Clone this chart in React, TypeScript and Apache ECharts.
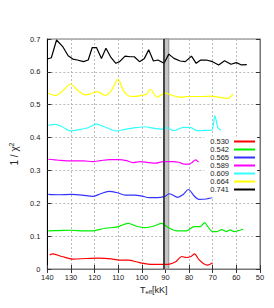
import React, { useEffect, useRef } from "react";
import * as echarts from "echarts";

const seriesNames = ["0.530", "0.542", "0.565", "0.589", "0.609", "0.664", "0.741"];
const seriesColors = ["#ff0000", "#00ee00", "#3333ff", "#ff00ff", "#33ffff", "#ffff00", "#000000"];

const t530 = [139.0, 137.7, 133.8, 129.2, 123.4, 118.2, 113.0, 109.7, 105.8, 101.3, 97.4, 92.2, 88.3, 85.7, 83.1, 81.2, 79.2, 77.7, 76.0, 74.0, 72.1, 70.1];
const v530 = [0.043, 0.046, 0.038, 0.030, 0.032, 0.033, 0.031, 0.027, 0.027, 0.020, 0.015, 0.014, 0.015, 0.022, 0.038, 0.035, 0.038, 0.046, 0.030, 0.017, 0.012, 0.019];

const t542 = [139.6, 135.1, 129.9, 124.7, 120.1, 115.6, 110.4, 105.8, 102.6, 98.7, 94.8, 91.6, 89.0, 85.2, 81.2, 77.9, 75.3, 73.4, 72.1, 70.1, 68.2, 66.2, 64.3, 62.6, 61.0, 59.5, 57.1];
const v542 = [0.116, 0.117, 0.118, 0.116, 0.117, 0.124, 0.128, 0.139, 0.131, 0.126, 0.131, 0.139, 0.127, 0.116, 0.116, 0.129, 0.129, 0.141, 0.129, 0.114, 0.114, 0.120, 0.114, 0.119, 0.114, 0.116, 0.121];

const t565 = [139.6, 135.1, 129.9, 125.3, 120.8, 117.5, 114.0, 110.4, 107.1, 103.2, 100.0, 96.8, 93.5, 90.3, 88.3, 84.8, 82.5, 80.3, 77.9, 76.0, 72.7, 70.1];
const v565 = [0.227, 0.226, 0.227, 0.225, 0.221, 0.229, 0.236, 0.232, 0.225, 0.225, 0.222, 0.217, 0.217, 0.221, 0.229, 0.218, 0.227, 0.242, 0.223, 0.212, 0.213, 0.218];

const t589 = [139.6, 135.1, 129.9, 124.7, 120.8, 117.5, 113.6, 109.7, 106.5, 103.9, 100.6, 97.4, 94.2, 90.9, 87.0, 84.4, 82.1, 79.9, 78.6, 77.3, 76.0];
const v589 = [0.334, 0.331, 0.329, 0.329, 0.327, 0.330, 0.333, 0.333, 0.330, 0.324, 0.327, 0.324, 0.322, 0.327, 0.327, 0.325, 0.319, 0.319, 0.325, 0.332, 0.325];

const t609 = [139.6, 136.4, 133.8, 129.9, 126.0, 122.7, 119.2, 115.6, 111.0, 107.1, 102.6, 98.7, 94.8, 91.6, 89.6, 86.4, 82.5, 79.2, 76.6, 72.7, 70.4, 69.1, 67.8, 66.5];
const v609 = [0.438, 0.440, 0.433, 0.420, 0.425, 0.430, 0.441, 0.432, 0.420, 0.425, 0.430, 0.433, 0.428, 0.426, 0.430, 0.421, 0.431, 0.430, 0.421, 0.422, 0.423, 0.466, 0.430, 0.423];

const t664 = [139.6, 136.4, 133.8, 130.1, 127.3, 124.0, 121.4, 118.8, 115.6, 113.0, 110.1, 107.5, 104.5, 101.0, 98.0, 96.4, 93.5, 90.3, 87.0, 83.8, 80.5, 77.3, 74.0, 70.8, 67.5, 64.3, 63.0, 61.4];
const v664 = [0.535, 0.528, 0.540, 0.563, 0.545, 0.530, 0.534, 0.540, 0.528, 0.542, 0.577, 0.540, 0.525, 0.527, 0.532, 0.547, 0.523, 0.535, 0.528, 0.523, 0.525, 0.525, 0.525, 0.526, 0.523, 0.519, 0.521, 0.532];

const t741 = [140.0, 138.3, 136.1, 133.5, 131.2, 129.2, 127.3, 124.7, 122.7, 121.0, 119.2, 117.1, 115.2, 113.0, 111.0, 109.4, 107.1, 104.9, 103.2, 101.0, 98.9, 97.1, 95.1, 93.2, 90.6, 88.6, 86.4, 83.8, 81.6, 79.0, 77.0, 75.1, 72.7, 70.1, 67.5, 65.0, 62.3, 60.0, 57.8, 55.6];
const v741 = [0.639, 0.643, 0.697, 0.677, 0.649, 0.639, 0.636, 0.631, 0.636, 0.674, 0.674, 0.641, 0.672, 0.643, 0.626, 0.631, 0.648, 0.646, 0.646, 0.631, 0.641, 0.667, 0.633, 0.636, 0.626, 0.654, 0.641, 0.633, 0.631, 0.648, 0.626, 0.636, 0.636, 0.631, 0.621, 0.634, 0.623, 0.628, 0.621, 0.622];

const seriesT = [t530, t542, t565, t589, t609, t664, t741];
const seriesV = [v530, v542, v565, v589, v609, v664, v741];
const smoothing = [0.3, 0.3, 0.3, 0.3, 0.3, 0.3, 0];

const bandFrom = 90.7;
const bandTo = 88.6;

const FONT = "'Liberation Sans', Arial, sans-serif";

export default function App() {
  const ref = useRef<HTMLDivElement>(null);
  useEffect(() => {
    if (!ref.current) return;
    const chart = echarts.init(ref.current, null, { renderer: "svg" });
    const series: any[] = seriesNames.map((name, i) => ({
      name,
      type: "line",
      xAxisIndex: 0,
      yAxisIndex: 0,
      showSymbol: false,
      symbol: "none",
      smooth: smoothing[i],
      data: seriesT[i].map((t, j) => [t, seriesV[i][j]]),
      lineStyle: { color: seriesColors[i], width: 1.2 },
      itemStyle: { color: seriesColors[i] },
      z: 3,
    }));
    series.push({
      name: "band",
      type: "line",
      data: [],
      markArea: {
        silent: true,
        itemStyle: { color: "#c4c4c4", borderColor: "#909090", borderWidth: 1 },
        data: [[{ xAxis: bandFrom }, { xAxis: bandTo }]],
      },
      markLine: {
        silent: true,
        symbol: "none",
        label: { show: false },
        lineStyle: { color: "#222", width: 1.5, type: "solid" },
        data: [{ xAxis: bandFrom }],
      },
      z: 1,
    });
    const tickStyle = { inside: true, length: 4, lineStyle: { color: "#333", width: 1 } };
    chart.setOption({
      animation: false,
      textStyle: { fontFamily: FONT },
      grid: { left: 29, right: 14, top: 39, bottom: 39, show: true, borderColor: "#777", borderWidth: 1 },
      legend: {
        data: seriesNames.map((n) => ({ name: n, icon: "rect" })),
        orient: "vertical",
        align: "right",
        right: 17,
        top: 136.5,
        itemWidth: 21,
        itemHeight: 2,
        itemGap: 0,
        padding: [1, 2, 4, 6],
        backgroundColor: "#fff",
        textStyle: { fontSize: 7.5, color: "#222", fontFamily: FONT, lineHeight: 7.5 },
        itemStyle: { borderWidth: 0 },
      },
      xAxis: [
        {
          type: "value",
          inverse: true,
          min: 50,
          max: 140,
          interval: 10,
          name: "T{sub|eff}[kK]",
          nameLocation: "middle",
          nameGap: 16,
          nameTextStyle: {
            fontSize: 9,
            color: "#222",
            fontFamily: FONT,
            rich: { sub: { fontSize: 6, verticalAlign: "bottom", padding: [4, 0, 0, 0], color: "#222", fontFamily: FONT } },
          },
          axisLine: { show: true, lineStyle: { color: "#000", width: 1 } },
          axisTick: tickStyle,
          axisLabel: { fontSize: 7.5, color: "#222", margin: 4, fontFamily: FONT },
          splitLine: { show: true, lineStyle: { color: "#aaa", type: [2, 2], width: 0.8 } },
        },
        {
          type: "value",
          inverse: true,
          position: "top",
          min: 50,
          max: 140,
          interval: 10,
          axisLine: { show: true, lineStyle: { color: "#777", width: 1 } },
          axisTick: tickStyle,
          axisLabel: { show: false },
          splitLine: { show: false },
        },
      ],
      yAxis: [
        {
          type: "value",
          min: 0,
          max: 0.7,
          interval: 0.1,
          name: "1 / χ{sup|2}",
          nameLocation: "middle",
          nameGap: 18,
          nameTextStyle: {
            fontSize: 10,
            color: "#222",
            fontFamily: FONT,
            rich: { sup: { fontSize: 7, verticalAlign: "top", padding: [0, 0, 5, 0], color: "#222", fontFamily: FONT } },
          },
          axisLine: { show: true, lineStyle: { color: "#000", width: 1 } },
          axisTick: tickStyle,
          axisLabel: {
            fontSize: 7.5,
            color: "#222",
            margin: 7,
            fontFamily: FONT,
            formatter: (v: number) => (v === 0 ? "0" : v.toFixed(1)),
          },
          splitLine: { show: true, lineStyle: { color: "#aaa", type: [2, 2], width: 0.8 } },
        },
        {
          type: "value",
          position: "right",
          min: 0,
          max: 0.7,
          interval: 0.1,
          axisLine: { show: true, lineStyle: { color: "#777", width: 1 } },
          axisTick: tickStyle,
          axisLabel: { show: false },
          splitLine: { show: false },
        },
      ],
      series,
    });
    return () => chart.dispose();
  }, []);
  return <div ref={ref} style={{ width: 274, height: 308, position: "absolute", left: 0, top: 0, background: "#fff" }} />;
}
